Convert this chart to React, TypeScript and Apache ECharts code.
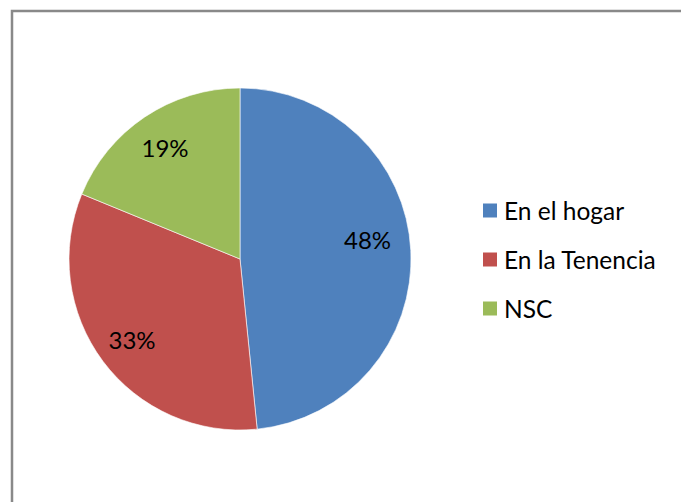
import React, { useEffect, useRef } from "react";
import * as echarts from "echarts";

const categories = ["En el hogar", "En la Tenencia", "NSC"];
const values = [48.4, 32.8, 18.8];
const colors = ["#4F81BD", "#C0504D", "#9BBB59"];

export default function App() {
  const ref = useRef<HTMLDivElement>(null);
  useEffect(() => {
    if (!ref.current) return;
    const chart = echarts.init(ref.current, null, { renderer: "svg" });
    const data = categories.map((name, i) => ({ name, value: values[i], itemStyle: { color: colors[i] } }));
    const total = values.reduce((a, b) => a + b, 0);
    const labelOffsets = [[-7, -13], [0, 0], [0, 0]];
    const center = [240, 259];
    const R = 171;
    chart.setOption({
      animation: false,
      backgroundColor: "#ffffff",
      graphic: [
        {
          type: "rect",
          shape: { x: 12, y: 11, width: 700, height: 520 },
          style: { fill: "none", stroke: "#898989", lineWidth: 2.5 },
          silent: true,
          z: 0,
        },
      ],
      legend: {
        data: categories,
        orient: "vertical",
        left: 483,
        top: 198,
        padding: 0,
        itemWidth: 14,
        itemHeight: 14,
        itemGap: 24,
        icon: "rect",
        itemStyle: { borderWidth: 0 },
        textStyle: { fontFamily: "Lato", fontSize: 24.5, lineHeight: 25, color: "#000", padding: [0, 0, 0, 2] },
      },
      series: [
        {
          type: "pie",
          center,
          radius: [0, R],
          startAngle: 90,
          clockwise: true,
          label: { show: false },
          labelLine: { show: false },
          itemStyle: { borderColor: "#ffffff", borderWidth: 0.6 },
          emphasis: { disabled: true },
          data,
        },
        {
          type: "pie",
          center,
          radius: [R * 0.54, R],
          startAngle: 90,
          clockwise: true,
          silent: true,
          legendHoverLink: false,
          itemStyle: { color: "rgba(0,0,0,0)", borderWidth: 0 },
          label: {
            show: true,
            position: "inside",
            fontFamily: "Lato",
            fontSize: 24,
            color: "#000",
            formatter: (p: any) => Math.round((p.value / total) * 100) + "%",
          },
          labelLine: { show: false },
          emphasis: { disabled: true },
          data: categories.map((name, i) => ({
            name: name + " ",
            value: values[i],
            label: { offset: labelOffsets[i] },
          })),
        },
      ],
    });
    return () => chart.dispose();
  }, []);
  return (
    <div
      ref={ref}
      style={{ position: "absolute", left: 0, top: 0, width: 681, height: 502 }}
    />
  );
}
